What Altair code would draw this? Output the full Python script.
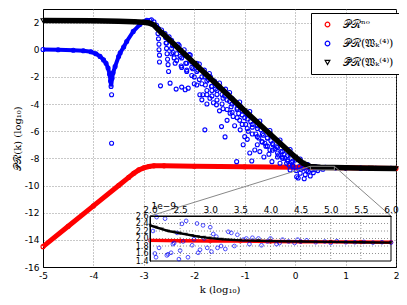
import altair as alt
import numpy as np
import pandas as pd

# ---------------- main panel data (log10 k , log10 P) ----------------
red_x = [-5.0, -4.5, -4.0, -3.5, -3.3, -3.2, -3.1, -3.0, -2.9, -2.8, -2.6, -2.0, -1.0, 0.0, 1.0, 2.0]
red_y = [-14.5, -13.0, -11.5, -10.0, -9.4, -9.1, -8.85, -8.7, -8.6, -8.55, -8.55, -8.58, -8.62, -8.66, -8.70, -8.74]

blue_curve_x = [-5.0, -4.7, -4.4, -4.2, -4.05, -3.95, -3.87, -3.8, -3.75, -3.71, -3.68, -3.66, -3.65,
                -3.63, -3.61, -3.57, -3.5, -3.47, -3.4, -3.34, -3.21, -3.08, -3.0, -2.94, -2.88]
blue_curve_y = [0.02, 0.0, -0.04, -0.08, -0.15, -0.3, -0.49, -0.75, -1.0, -1.35, -1.8, -2.3, -2.7,
                -2.1, -1.7, -1.23, -0.5, -0.24, 0.2, 0.61, 1.35, 1.85, 2.05, 2.17, 2.15]

blue_scatter_x = [
    -3.64, -3.64,
    -2.85, -2.8, -2.75, -2.65, -2.5, -2.3, -2.1, -1.9, -1.7, -1.5, -1.3, -1.1, -0.9, -0.7, -0.5, -0.3, -0.1, 0.1, 0.25, 0.4, 0.6,
    -2.72, -2.72, -2.71, -2.70, -2.70, -2.69, -2.69, -2.67,
    -2.58, -2.57, -2.56, -2.55, -2.54, -2.53, -2.52, -2.51, -2.48,
    -2.45, -2.43, -2.42, -2.40, -2.38, -2.36,
    -2.32, -2.30, -2.28, -2.26, -2.25,
    -2.20, -2.18, -2.17, -2.15, -2.18, -2.12,
    -2.08, -2.05, -2.03, -2.00,
    -1.95, -1.93, -1.90, -1.89, -1.85, -1.83,
    -1.80, -1.79, -1.78, -1.79, -1.75, -1.72,
    -1.69, -1.68, -1.66, -1.65,
    -1.60, -1.58, -1.56, -1.55, -1.52,
    -1.46, -1.43, -1.43, -1.42, -1.40, -1.39, -1.38,
    -1.33, -1.30, -1.29, -1.27, -1.25, -1.23, -1.20,
    -1.16, -1.15, -1.12, -1.10, -1.09, -1.08, -1.05, -1.03,
    -1.00, -0.98, -0.95, -0.93, -0.90, -0.88, -0.86, -0.85,
    -0.80, -0.78, -0.75, -0.72, -0.70, -0.68, -0.66, -0.63,
    -0.60, -0.58, -0.55, -0.52, -0.50, -0.48, -0.46, -0.44,
    -0.40, -0.37, -0.35, -0.33, -0.30, -0.28, -0.25, -0.22,
    -0.20, -0.17, -0.15, -0.12, -0.10, -0.10, -0.07, -0.04,
    0.00, 0.02, 0.03, 0.06, 0.08, 0.10, 0.12, 0.16, 0.18, 0.20, 0.23, 0.26, 0.30, 0.33, 0.36, 0.40, 0.45, 0.50, 0.55,
    0.8, 1.0, 1.3, 1.6, 1.9,
    -2.55, -2.45, -2.45, -2.35, -2.35, -2.25, -2.25, -2.15, -2.15, -2.05, -2.05, -1.95, -1.95,
    -1.85, -1.85, -1.75, -1.75, -1.65, -1.65, -1.55, -1.55, -1.45, -1.45, -1.35, -1.35, -1.25, -1.25,
    -1.15, -1.15, -1.05, -1.05, -0.95, -0.95, -0.85, -0.85, -0.75, -0.75, -0.65, -0.65, -0.55, -0.55,
    -0.45, -0.45, -0.35, -0.35, -0.25, -0.25, -0.15, -0.15, -0.05, -0.05,
    -2.0, -1.75, -1.5, -1.2, -0.95, -0.75, -1.62, -1.35, -1.0, -0.62]
blue_scatter_y = [
    -3.32, -6.89,
    2.2, 2.05, 1.8, 1.45, 0.95, 0.3, -0.35, -1.05, -1.75, -2.45, -3.15, -3.85, -4.55, -5.25, -5.95, -6.65, -7.35, -8.05, -8.45, -8.6, -8.65,
    1.6, 1.2, 0.8, 0.4, 0.0, -0.4, -0.9, -2.66,
    1.2, 0.9, 0.5, 0.1, -0.3, -0.7, -1.1, -1.6, -2.46,
    0.7, 0.3, -0.2, -0.6, -1.0, -2.9,
    0.4, 0.0, -0.5, -1.2, -2.75,
    0.0, -0.4, -1.0, -1.6, -2.95, -2.83,
    -0.4, -0.9, -1.4, -2.0,
    -1.0, -1.5, -2.2, -3.32, -3.69, -3.32,
    -1.5, -2.0, -2.6, -5.9, -3.32, -2.2,
    -3.57, -2.0, -2.7, -3.0,
    -2.3, -2.9, -4.06, -3.3, -2.7,
    -5.66, -4.35, -3.57, -3.0, -3.4, -6.42, -2.9,
    -3.3, -3.8, -4.67, -4.2, -3.6, -4.92, -3.9,
    -8.24, -4.3, -4.7, -5.2, -5.9, -4.2, -4.5, -7.0,
    -5.0, -5.5, -4.8, -6.0, -7.6, -5.3, -8.19, -5.7,
    -7.38, -6.2, -5.6, -6.5, -7.5, -5.9, -6.77, -6.3,
    -6.89, -7.1, -6.5, -7.7, -7.38, -6.7, -8.24, -7.0,
    -7.3, -7.14, -7.9, -7.75, -8.36, -7.5, -8.0, -7.7,
    -7.99, -8.36, -8.1, -8.5, -7.75, -8.86, -8.3, -8.61,
    -8.12, -8.9, -9.35, -9.45, -8.6, -9.1, -8.8, -8.73, -9.5, -9.2, -8.9, -8.98, -9.3, -8.85, -9.05, -8.8, -8.9, -8.75, -8.8,
    -8.7, -8.71, -8.72, -8.73, -8.74,
    0.5, 0.1, -0.3, -0.3, -0.8, -0.6, -1.3, -1.0, -1.5, -1.3, -1.9, -1.6, -2.6,
    -2.0, -2.5, -2.3, -3.0, -2.7, -3.4, -3.0, -3.7, -3.3, -4.0, -3.7, -4.4, -4.0, -4.6,
    -4.4, -5.0, -4.8, -5.5, -5.1, -5.8, -5.5, -6.2, -5.8, -6.4, -6.2, -6.8, -6.5, -7.1,
    -6.9, -7.4, -7.2, -7.6, -7.5, -7.9, -7.8, -8.2, -8.2, -8.5,
    -2.5, -4.0, -4.5, -5.6, -6.6, -7.0, -3.9, -5.2, -6.4, -7.9]

black_x = [-5.0, -4.0, -3.5, -3.2, -3.0, -2.9, -2.8, -2.72, -2.65, -2.6, -2.0, -1.5, -1.0, -0.5, 0.0, 0.15, 0.3, 0.5, 1.0, 1.5, 2.0]
black_y = [2.15, 2.13, 2.1, 2.06, 2.02, 1.97, 1.82, 1.5, 1.25, 1.1, -1.0, -2.75, -4.5, -6.2, -7.9, -8.35, -8.6, -8.66, -8.70, -8.72, -8.74]

x_ticks = [-5, -4, -3, -2, -1, 0, 1, 2]
y_ticks = [-16, -14, -12, -10, -8, -6, -4, -2, 0, 2]

# ---------------- inset data (k , P / 1e-9) ----------------
in_red_k = [2.0, 2.5, 3.0, 3.5, 4.0, 4.5, 5.0, 5.5, 6.0]
in_red_p = [1.95, 1.94, 1.935, 1.93, 1.92, 1.915, 1.91, 1.905, 1.90]

in_black_k = [2.0, 2.1, 2.2, 2.3, 2.4, 2.5, 2.6, 2.7, 2.8, 2.9, 3.0, 3.2, 3.5, 3.8, 4.0, 4.5, 5.0, 5.5, 6.0]
in_black_p = [2.35, 2.3, 2.25, 2.2, 2.17, 2.14, 2.11, 2.08, 2.05, 2.03, 2.01, 1.98, 1.95, 1.94, 1.93, 1.92, 1.91, 1.90, 1.89]

in_blue_k = [2.05, 2.08, 2.1, 2.11, 2.15, 2.25, 2.28, 2.3, 2.35, 2.38, 2.4, 2.45, 2.48, 2.5, 2.53, 2.55, 2.6,
             2.63, 2.7, 2.73, 2.78, 2.8, 2.83, 2.88, 2.9, 2.95, 3.0, 3.02, 3.05, 3.1, 3.12, 3.18, 3.25, 3.3,
             3.35, 3.4, 3.45, 3.55, 3.6, 3.65, 3.7, 3.8, 3.85, 3.95, 4.0, 4.1, 4.15, 4.2, 4.3, 4.4, 4.45,
             4.5, 4.6, 4.75, 4.9, 5.0, 5.1, 5.25, 5.4, 5.55, 5.7, 5.85, 6.0]
in_blue_p = [2.2, 1.6, 1.5, 2.57, 1.75, 2.53, 1.55, 1.58, 1.62, 1.85, 1.88, 2.15, 1.45, 1.68, 2.39, 1.92, 2.47,
             1.5, 1.82, 1.98, 2.4, 1.62, 1.7, 2.35, 2.0, 1.75, 2.3, 1.65, 2.12, 2.05, 1.75, 1.8, 1.72, 2.18,
             2.15, 1.8, 2.1, 1.97, 2.0, 1.85, 2.02, 2.0, 1.82, 1.92, 2.0, 1.85, 1.88, 1.97, 1.92, 1.88, 1.97,
             1.92, 1.95, 1.9, 1.92, 1.88, 1.93, 1.9, 1.9, 1.91, 1.89, 1.9, 1.89]

in_k_ticks = [2.0, 2.5, 3.0, 3.5, 4.0, 4.5, 5.0, 5.5, 6.0]
in_p_ticks = [1.4, 1.6, 1.8, 2.0, 2.2, 2.4, 2.6]
in_k_domain = [2.0, 6.0]
in_p_domain = [1.4, 2.6]
# inset position inside the plot area (pixels)
in_x_range = [107, 348]
in_y_range = [252, 207]
# inset corners expressed in main-panel coordinates (for the connector lines)
corner_x = [-2.88, 1.90]
corner_y = -12.25

labels = ["𝒫ℛⁿᵒ", "𝒫ℛ(𝔚ₖ⁽⁴⁾)", "𝒫̄ℛ(𝔚ₖ⁽⁴⁾)"]
colors = ["#ff0000", "#0000ff", "#000000"]
shapes = ["circle", "circle", "triangle-down"]

W, H = 353, 258
HYPHEN = "replace(datum.label, '−', '-')"

# ---------------- encodings ----------------
def xm(field="x"):
    return alt.X(f"{field}:Q", scale=alt.Scale(domain=[-5, 2], nice=False, zero=False),
                 axis=alt.Axis(values=x_ticks, format="d", title="k (log₁₀)", grid=True,
                               ticks=False, labelPadding=4, labelFlush=False, titlePadding=4,
                               labelExpr=HYPHEN,
                               domainColor="black", gridColor="#777", gridDash=[1, 2], gridWidth=0.8))

def ym(field="y"):
    return alt.Y(f"{field}:Q", scale=alt.Scale(domain=[-16, 3], nice=False, zero=False),
                 axis=alt.Axis(values=y_ticks, format="d", title="𝒫ℛ(k) (log₁₀)", grid=True,
                               ticks=False, labelPadding=4, titlePadding=2, labelExpr=HYPHEN,
                               domainColor="black", gridColor="#777", gridDash=[1, 2], gridWidth=0.8))

col = alt.Color("series:N", scale=alt.Scale(domain=labels, range=colors),
                legend=alt.Legend(orient="none", legendX=268, legendY=4, title=None,
                                  strokeColor="black", fillColor="white", padding=6,
                                  rowPadding=7, symbolSize=22, symbolStrokeWidth=1.2,
                                  labelFont="DejaVu Serif", labelFontSize=11, labelOffset=10,
                                  symbolOffset=5, labelLimit=300))
shp = alt.Shape("series:N", scale=alt.Scale(domain=labels, range=shapes))

red_df = pd.DataFrame({"x": red_x, "y": red_y, "series": labels[0]})
bc_df = pd.DataFrame({"x": blue_curve_x, "y": blue_curve_y, "series": labels[1]})
bs_df = pd.DataFrame({"x": blue_scatter_x, "y": blue_scatter_y, "series": labels[1]})
blk_df = pd.DataFrame({"x": black_x, "y": black_y, "series": labels[2]})

def pts(df, size=16, sw=1.1):
    return alt.Chart(df).mark_point(filled=False, size=size, strokeWidth=sw, opacity=1).encode(
        x=xm(), y=ym(), color=col, shape=shp)

def line(df, c, w):
    return alt.Chart(df).mark_line(color=c, strokeWidth=w).encode(x=xm(), y=ym())

# zoom rectangle and connectors (main coords)
zoom_df = pd.DataFrame({"x": [np.log10(in_k_domain[0])], "x2": [np.log10(in_k_domain[1])],
                        "y": [np.log10(in_p_domain[0] * 1e-9)], "y2": [np.log10(in_p_domain[1] * 1e-9)]})
conn_df = pd.DataFrame({"x": [np.log10(in_k_domain[0]), np.log10(in_k_domain[1])],
                        "y": [np.log10(in_p_domain[1] * 1e-9)] * 2,
                        "x2": corner_x, "y2": [corner_y, corner_y]})

zoom_rect = alt.Chart(zoom_df).mark_rect(fill=None, stroke="#888", strokeWidth=1).encode(
    x=xm(), x2="x2", y=ym(), y2="y2")
connectors = alt.Chart(conn_df).mark_rule(color="#888", strokeWidth=1).encode(
    x=xm(), x2="x2", y=ym(), y2="y2")

main = alt.layer(
    line(red_df, colors[0], 5), pts(red_df),
    line(bc_df, colors[1], 4), pts(bc_df), pts(bs_df),
    line(blk_df, colors[2], 5.5), pts(blk_df, size=16),
    zoom_rect, connectors,
)

# ---------------- inset ----------------
def xi(field="k"):
    return alt.X(f"{field}:Q", scale=alt.Scale(domain=in_k_domain, range=in_x_range, nice=False, zero=False),
                 axis=alt.Axis(orient="top", offset=-207, values=in_k_ticks, format=".1f", title=None,
                               grid=False, ticks=False, labelPadding=2, labelFlush=False,
                               labelOverlap=False, domainColor="black", zindex=1, labelFontSize=9))

def yi(field="p"):
    return alt.Y(f"{field}:Q", scale=alt.Scale(domain=in_p_domain, range=in_y_range, nice=False, zero=False),
                 axis=alt.Axis(orient="left", offset=-107, values=in_p_ticks, format=".1f",
                               title="1e−9", titleAngle=0, titleAlign="left", titleBaseline="bottom",
                               titleX=1, titleY=201, titleFont="DejaVu Sans", titleFontSize=9,
                               grid=False, ticks=False, labelPadding=2, labelOverlap=False,
                               domainColor="black", zindex=1, labelFontSize=8))

frame_df = pd.DataFrame({"k": [in_k_domain[0]], "k2": [in_k_domain[1]],
                         "p": [in_p_domain[0]], "p2": [in_p_domain[1]]})
vgrid_df = pd.DataFrame({"k": in_k_ticks[1:-1]})
hgrid_df = pd.DataFrame({"p": in_p_ticks[1:-1]})

frame = alt.Chart(frame_df).mark_rect(fill="white", stroke="black", strokeWidth=1).encode(
    x=xi(), x2="k2", y=yi(), y2="p2")
vgrid = alt.Chart(vgrid_df).mark_rule(color="#777", strokeDash=[1, 2], strokeWidth=0.8).encode(
    x=xi(), y=alt.value(in_y_range[1]), y2=alt.value(in_y_range[0]))
hgrid = alt.Chart(hgrid_df).mark_rule(color="#777", strokeDash=[1, 2], strokeWidth=0.8).encode(
    y=yi(), x=alt.value(in_x_range[0]), x2=alt.value(in_x_range[1]))

ir = pd.DataFrame({"k": in_red_k, "p": in_red_p})
ib = pd.DataFrame({"k": in_blue_k, "p": in_blue_p})
ik = pd.DataFrame({"k": in_black_k, "p": in_black_p})

inset = alt.layer(
    frame, vgrid, hgrid,
    alt.Chart(ir).mark_line(color=colors[0], strokeWidth=3.5).encode(x=xi(), y=yi()),
    alt.Chart(ir).mark_point(color=colors[0], filled=False, size=14, strokeWidth=1).encode(x=xi(), y=yi()),
    alt.Chart(ib).mark_point(color=colors[1], filled=False, size=14, strokeWidth=1).encode(x=xi(), y=yi()),
    alt.Chart(ik).mark_line(color=colors[2], strokeWidth=2.5).encode(x=xi(), y=yi()),
    alt.Chart(ik).mark_point(color=colors[2], shape="triangle-down", filled=True, size=14).encode(x=xi(), y=yi()),
)

chart = alt.layer(main, inset).resolve_scale(x="independent", y="independent").properties(
    width=W, height=H,
    autosize=alt.AutoSizeParams(type="none"),
    padding={"left": 35, "top": 1, "right": 3, "bottom": 29},
    background="white",
).configure_view(stroke="black", strokeWidth=1).configure_axis(
    labelFont="DejaVu Sans", labelFontSize=9, labelColor="black",
    titleFont="DejaVu Serif", titleFontSize=10, titleFontWeight="normal", titleColor="black",
)

chart.save("out.html", embed_options={"renderer": "svg", "actions": False})
